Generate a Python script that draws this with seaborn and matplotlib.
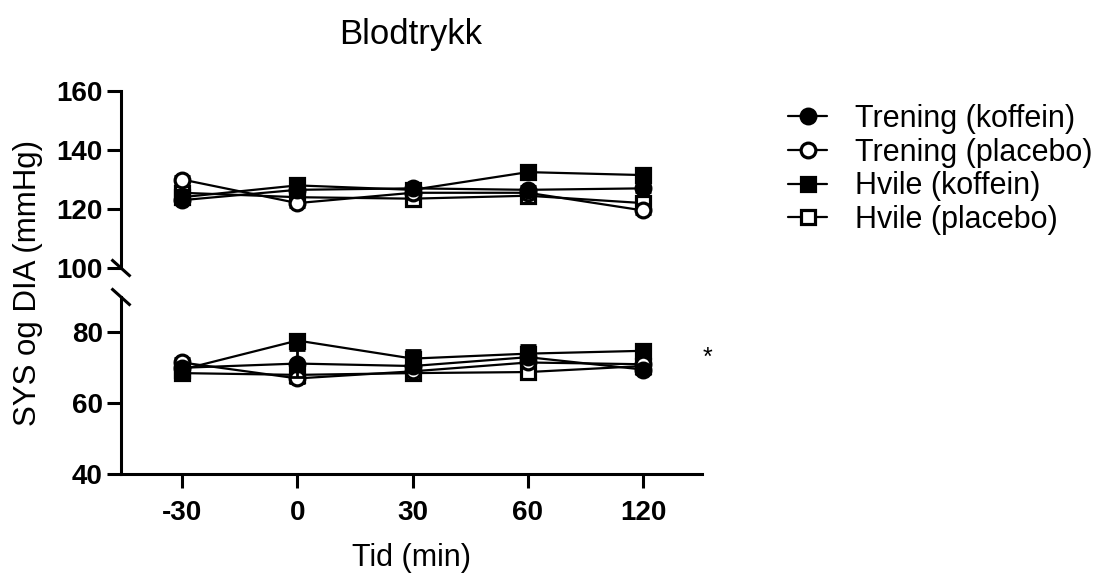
import numpy as np
import pandas as pd
import matplotlib
matplotlib.use("Agg")
import matplotlib.pyplot as plt
import seaborn as sns
from matplotlib.lines import Line2D

# ---------------- data ----------------
times = ["-30", "0", "30", "60", "120"]
series_names = ["Trening (koffein)", "Trening (placebo)", "Hvile (koffein)", "Hvile (placebo)"]

# systolic (upper panel)
sys_tk = [123.0, 126.5, 127.0, 126.5, 127.0]
sys_tp = [130.0, 122.0, 125.5, 125.5, 119.5]
sys_hk = [124.0, 128.0, 126.5, 132.5, 131.5]
sys_hp = [125.5, 124.0, 123.5, 124.5, 122.0]
sys_err_tk = [1.2, 1.2, 1.2, 1.2, 1.2]
sys_err_tp = [1.2, 1.2, 1.2, 1.2, 1.2]
sys_err_hk = [1.2, 1.2, 1.2, 1.5, 1.5]
sys_err_hp = [1.2, 1.2, 1.2, 1.2, 1.2]

# diastolic (lower panel)
dia_tk = [70.0, 71.2, 70.5, 73.0, 69.5]
dia_tp = [71.5, 67.0, 69.0, 71.5, 71.0]
dia_hk = [69.5, 77.7, 72.6, 74.0, 74.8]
dia_hp = [68.5, 68.0, 68.5, 68.8, 70.5]
dia_err_tk = [1.2, 3.7, 1.2, 1.5, 1.2]
dia_err_tp = [1.2, 1.2, 1.2, 1.2, 1.2]
dia_err_hk = [1.2, 1.5, 2.5, 2.5, 1.5]
dia_err_hp = [1.2, 1.2, 1.2, 1.2, 1.2]

sys_vals = [sys_tk, sys_tp, sys_hk, sys_hp]
sys_errs = [sys_err_tk, sys_err_tp, sys_err_hk, sys_err_hp]
dia_vals = [dia_tk, dia_tp, dia_hk, dia_hp]
dia_errs = [dia_err_tk, dia_err_tp, dia_err_hk, dia_err_hp]

rows = []
for name, sv, se, dv, de in zip(series_names, sys_vals, sys_errs, dia_vals, dia_errs):
    for i, t in enumerate(times):
        rows.append(dict(series=name, time=t, pos=i, kind="SYS", value=sv[i], err=se[i]))
        rows.append(dict(series=name, time=t, pos=i, kind="DIA", value=dv[i], err=de[i]))
df = pd.DataFrame(rows)

# ---------------- style ----------------
sns.set_theme(style="ticks")
plt.rcParams["font.family"] = ["Liberation Sans", "DejaVu Sans"]
plt.rcParams.update({
    "axes.linewidth": 2.2,
    "axes.edgecolor": "black",
    "text.color": "black",
    "axes.labelcolor": "black",
    "xtick.color": "black",
    "ytick.color": "black",
})

markers = {"Trening (koffein)": ("o", "black"),
           "Trening (placebo)": ("o", "white"),
           "Hvile (koffein)": ("s", "black"),
           "Hvile (placebo)": ("s", "white")}
zorders = {"Trening (koffein)": 8, "Trening (placebo)": 6,
           "Hvile (koffein)": 4, "Hvile (placebo)": 2}
MS = 10.6
MEW = 2.3
LW = 1.6

fig = plt.figure(figsize=(11.04, 5.74), dpi=100)
W, H = 1104, 574
left, right = 121, 702
ax_top = fig.add_axes([left / W, 1 - 268 / H, (right - left) / W, (268 - 91) / H])
ax_bot = fig.add_axes([left / W, 1 - 474 / H, (right - left) / W, (474 - 297) / H])

for ax, kind in [(ax_top, "SYS"), (ax_bot, "DIA")]:
    ax.set_facecolor("white")
    for name in series_names:
        sub = df[(df.series == name) & (df.kind == kind)]
        m, fc = markers[name]
        z = zorders[name]
        ax.errorbar(sub["pos"], sub["value"], yerr=sub["err"], fmt="none",
                    ecolor="black", elinewidth=2.0, capsize=5.5, capthick=2.0,
                    zorder=z - 0.5)
        sns.lineplot(data=sub, x="pos", y="value", ax=ax, color="black",
                     errorbar=None, legend=False, linewidth=LW,
                     marker=m, markersize=MS, markerfacecolor=fc,
                     markeredgecolor="black", markeredgewidth=MEW, zorder=z)
    ax.set_xlim(-0.53, 4.51)
    ax.set_xlabel("")
    ax.set_ylabel("")
    ax.spines["top"].set_visible(False)
    ax.spines["right"].set_visible(False)
    ax.tick_params(axis="y", length=10, width=2.2, pad=3, labelsize=20, color="black",
                   labelcolor="black")

ax_top.set_ylim(100, 160)
ax_top.set_yticks([100, 120, 140, 160])
ax_top.spines["bottom"].set_visible(False)
ax_top.set_xticks([])

ax_bot.set_ylim(40, 90)
ax_bot.set_yticks([40, 60, 80])
ax_bot.set_xticks(range(len(times)))
ax_bot.set_xticklabels(times)
ax_bot.tick_params(axis="x", length=10, width=2.2, pad=9, labelsize=20, color="black",
                   labelcolor="black")
for ax in (ax_top, ax_bot):
    for lab in ax.get_xticklabels() + ax.get_yticklabels():
        lab.set_fontweight("bold")

# axis break marks
dx = 9.5 / (right - left)
dy = 8.5 / 177
ax_top.plot([-dx, dx], [dy, -dy], transform=ax_top.transAxes, color="black",
            lw=2.2, clip_on=False, solid_capstyle="butt")
ax_bot.plot([-dx, dx], [1 + dy, 1 - dy], transform=ax_bot.transAxes, color="black",
            lw=2.2, clip_on=False, solid_capstyle="butt")

# significance star
ax_bot.text(1.0086, 0.615, "*", transform=ax_bot.transAxes, fontsize=18,
            ha="center", va="baseline", color="black")

# titles / labels
fig.text(411 / W, 1 - 44 / H, "Blodtrykk", fontsize=25, ha="center", va="baseline")
fig.text(411 / W, 1 - 566 / H, "Tid (min)", fontsize=22, ha="center", va="baseline")
fig.text(28 / W, 1 - 283 / H, "SYS og DIA (mmHg)", fontsize=22.5, rotation=90,
         ha="center", va="center")

# legend
handles = []
for name in series_names:
    m, fc = markers[name]
    handles.append(Line2D([0], [0], color="black", lw=LW, marker=m, markersize=MS,
                          markerfacecolor=fc, markeredgecolor="black",
                          markeredgewidth=MEW))
fig.legend(handles, series_names, loc="upper left",
           bbox_to_anchor=(788 / W, 1 - 104 / H), frameon=False, fontsize=22,
           handlelength=1.28, handletextpad=0.9, labelspacing=0.12,
           borderpad=0, borderaxespad=0)

fig.savefig("out.png", dpi=100, facecolor="white")
